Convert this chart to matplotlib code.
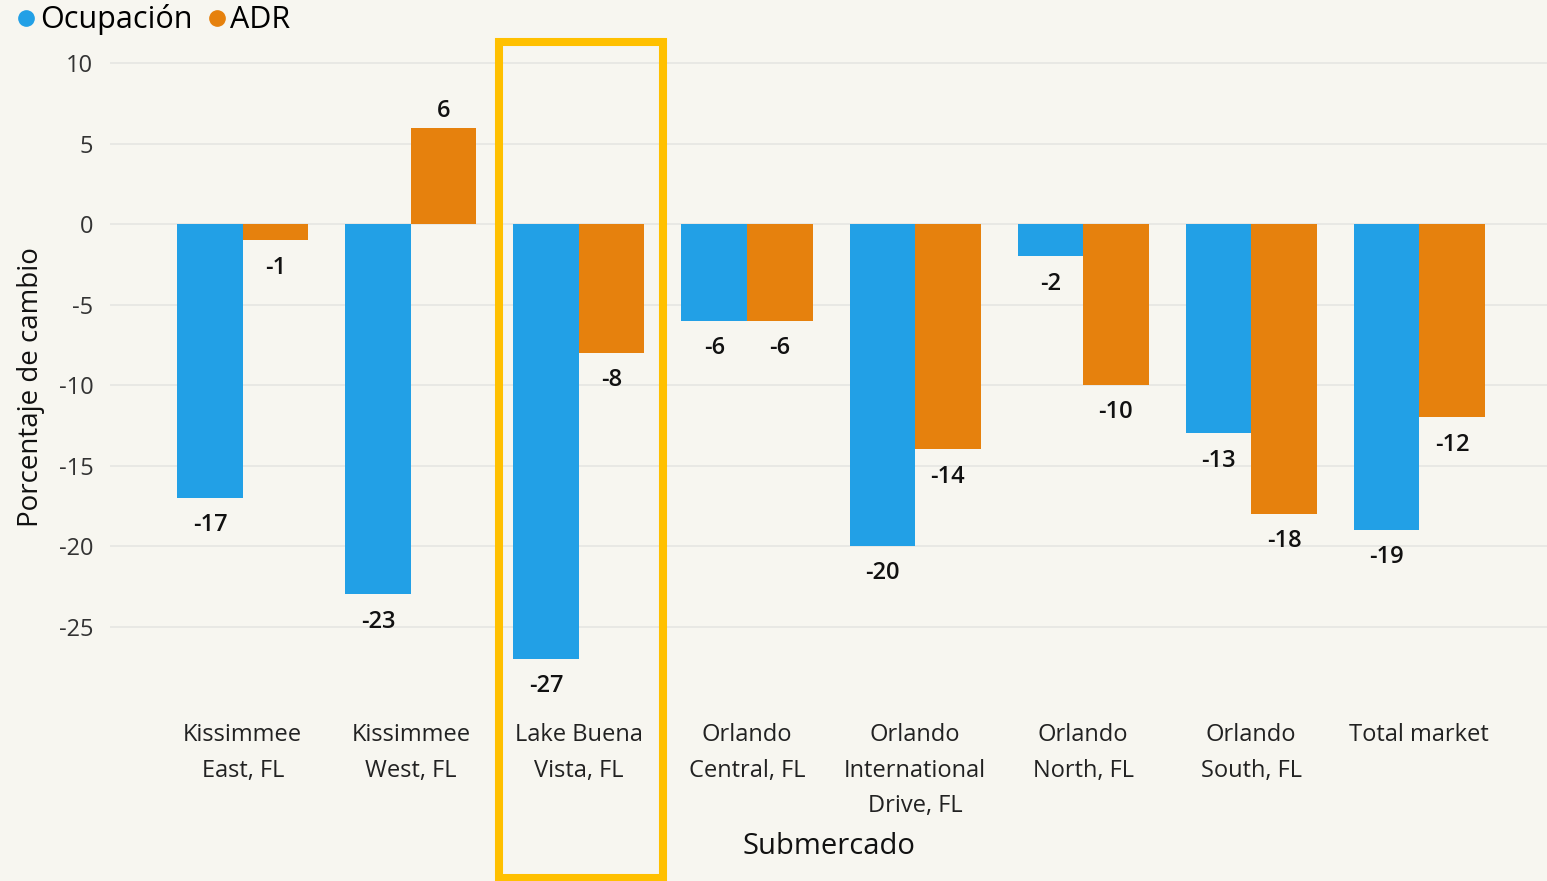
import matplotlib.pyplot as plt
import matplotlib.transforms as mtransforms
from matplotlib.patches import Rectangle
from matplotlib.lines import Line2D
import numpy as np

plt.rcParams['font.family'] = ['Open Sans', 'DejaVu Sans']
plt.rcParams['axes.unicode_minus'] = False

submarkets = ["Kissimmee\nEast, FL", "Kissimmee\nWest, FL", "Lake Buena\nVista, FL",
              "Orlando\nCentral, FL", "Orlando\nInternational\nDrive, FL",
              "Orlando\nNorth, FL", "Orlando\nSouth, FL", "Total market"]
ocupacion = [-17, -23, -27, -6, -20, -2, -13, -19]
adr = [-1, 6, -8, -6, -14, -10, -18, -12]
yticks = [10, 5, 0, -5, -10, -15, -20, -25]
highlight = 2  # Lake Buena Vista

blue = "#22A0E6"
orange = "#E6810D"
bg = "#F7F6F0"

fig = plt.figure(figsize=(15.47, 8.81), dpi=100, facecolor=bg)
ax = fig.add_axes([0.0711, 0.1884, 0.9289, 0.7435], facecolor=bg)

x = np.arange(len(submarkets))
w = 0.39
b1 = ax.bar(x - w / 2, ocupacion, w, color=blue, zorder=2)
b2 = ax.bar(x + w / 2, adr, w, color=orange, zorder=2)

for bars, vals in [(b1, ocupacion), (b2, adr)]:
    for r, v in zip(bars, vals):
        cx = r.get_x() + r.get_width() / 2
        if v < 0:
            ax.annotate(str(v), (cx, v), xytext=(0, -11), textcoords="offset points",
                        ha="center", va="top", fontsize=17, fontweight="semibold", color="#111111")
        else:
            ax.annotate(str(v), (cx, v), xytext=(0, 3), textcoords="offset points",
                        ha="center", va="bottom", fontsize=17, fontweight="semibold", color="#111111")

ax.set_xlim(-0.79, 7.76)
ax.set_ylim(-30.5, 10.2)
ax.set_yticks(yticks)
ax.set_xticks(x)
ax.set_xticklabels(submarkets, fontsize=17, color="#222222", linespacing=1.62, va="top")
ax.tick_params(axis="y", labelsize=17, labelcolor="#333333", length=0, pad=12)
ax.tick_params(axis="x", length=0, pad=6)
ax.grid(axis="y", color="#E6E6E2", linewidth=1.2, zorder=0)
for s in ax.spines.values():
    s.set_visible(False)

ax.set_xlabel("Submercado", fontsize=21, color="#111111", labelpad=10)
ax.set_ylabel("Porcentaje de cambio", fontsize=20, color="#111111", labelpad=10)

# highlight box around Lake Buena Vista
trans = mtransforms.blended_transform_factory(ax.transData, fig.transFigure)
rect = Rectangle((highlight - 0.476, 3.5 / 881), 0.976, 1 - 45 / 881,
                 transform=trans, fill=False, edgecolor="#FFC000", linewidth=5.8,
                 clip_on=False, zorder=5)
fig.add_artist(rect)

handles = [Line2D([], [], marker="o", linestyle="", color=blue, markersize=11),
           Line2D([], [], marker="o", linestyle="", color=orange, markersize=11)]
fig.legend(handles, ["Ocupación", "ADR"], loc="upper left", bbox_to_anchor=(-0.005, 1.016),
           ncol=2, frameon=False, fontsize=22, handletextpad=-0.05, columnspacing=0.3,
           handlelength=1.0, borderaxespad=0.2)

fig.savefig("out.png", dpi=100, facecolor=bg)
